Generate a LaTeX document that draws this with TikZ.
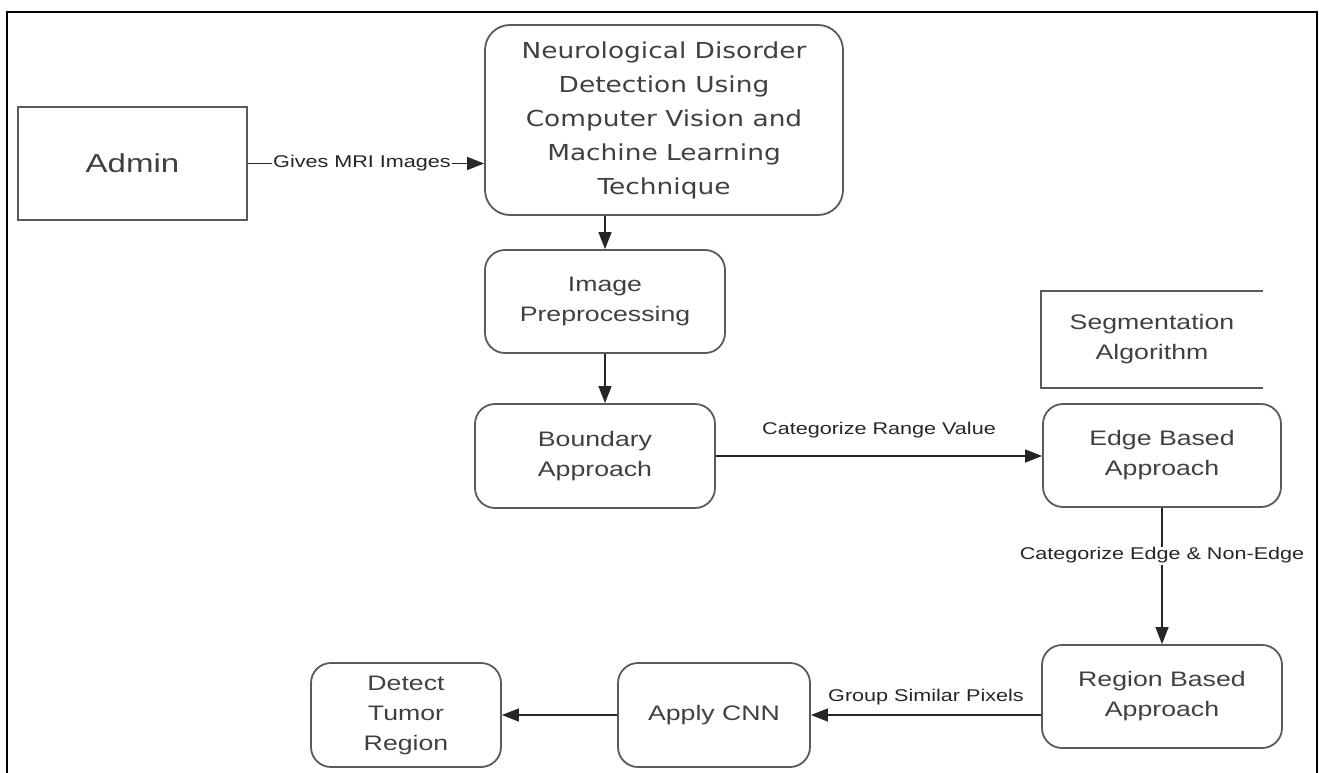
\documentclass[tikz,border=0pt]{standalone}
\usepackage{fontspec}
\setmainfont{Liberation Sans}[FakeStretch=1.27]
\newfontfamily\titlefont{DejaVu Sans}[FakeStretch=1.2]
\usetikzlibrary{arrows.meta}
\definecolor{boxgray}{HTML}{5A5A5A}
\definecolor{txtgray}{HTML}{404040}
\tikzset{
  box/.style={draw=boxgray, line width=1.8pt, rounded corners=20pt, align=center,
    inner sep=0pt, text=txtgray, font=\fontsize{21}{30}\selectfont},
  plainbox/.style={draw=boxgray, line width=1.8pt, align=center, inner sep=0pt,
    text=txtgray, font=\fontsize{26}{30}\selectfont},
  conn/.style={draw=black!85, line width=1.4pt, -{Triangle[length=17pt,width=13pt]}},
  lbl/.style={font=\fontsize{17}{20}\selectfont, text=black!85, inner sep=1pt},
}
\begin{document}
\begin{tikzpicture}[x=1pt,y=-1pt]
\useasboundingbox (0,0) rectangle (1319,773);
% outer frame (no bottom edge)
\draw[line width=2pt] (7,773) -- (7,12) -- (1317,12) -- (1317,773);

\node[plainbox, minimum width=229pt, minimum height=113pt] (admin) at (132.5,163.5) {Admin};
\node[box, rounded corners=25pt, minimum width=358pt, minimum height=190pt,
  font=\titlefont\fontsize{22}{34}\selectfont] (main) at (664,120)
  {Neurological Disorder\\Detection Using\\Computer Vision and\\Machine Learning\\Technique};
\node[box, minimum width=240pt, minimum height=103pt] (prep) at (605,301.5) {Image\\Preprocessing};
\node[box, minimum width=240pt, minimum height=104pt] (bound) at (595,456) {Boundary\\Approach};
\node[box, minimum width=238pt, minimum height=103pt] (edge) at (1162,455.5) {Edge Based\\Approach};
\node[box, draw=none, minimum width=220pt, minimum height=95pt] (seg) at (1152,339.5) {Segmentation\\Algorithm};
\draw[draw=boxgray, line width=1.8pt] (seg.north east) -- (seg.north west) -- (seg.south west) -- (seg.south east);
\node[box, minimum width=240pt, minimum height=103pt] (region) at (1162,696.5) {Region Based\\Approach};
\node[box, minimum width=192pt, minimum height=104pt] (cnn) at (714,715) {Apply CNN};
\node[box, minimum width=190pt, minimum height=104pt] (detect) at (406,715) {Detect\\Tumor\\Region};

\draw[conn] (admin.east) -- node[lbl, fill=white, midway, xshift=-4pt] {Gives MRI Images} (admin.east -| main.west);
\draw[conn] (prep.north |- main.south) -- (prep.north);
\draw[conn] (prep.south) -- (prep.south |- bound.north);
\draw[conn] (bound.east) -- node[lbl, midway, yshift=26pt] {Categorize Range Value} (bound.east -| edge.west);
\draw[conn] (edge.south) -- node[lbl, fill=white, pos=0.35] {Categorize Edge \& Non-Edge} (region.north);
\draw[conn] (region.west |- cnn.east) -- node[lbl, midway, yshift=18pt] {Group Similar Pixels} (cnn.east);
\draw[conn] (cnn.west) -- (detect.east);
\end{tikzpicture}
\end{document}
